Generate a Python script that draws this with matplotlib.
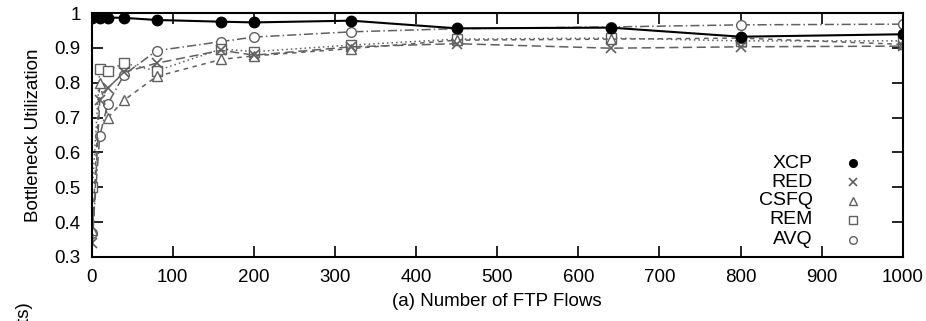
import numpy as np
import matplotlib
matplotlib.use("Agg")
import matplotlib.pyplot as plt

plt.rcParams['font.family'] = ['Liberation Sans', 'DejaVu Sans']

# number of FTP flows
flows = [1, 10, 20, 40, 80, 160, 200, 320, 450, 640, 800, 1000]

# bottleneck utilization per scheme
xcp  = [0.986, 0.987, 0.987, 0.986, 0.980, 0.975, 0.973, 0.978, 0.956, 0.958, 0.932, 0.939]
red  = [0.34, 0.75, 0.785, 0.83, 0.856, 0.893, 0.879, 0.903, 0.912, 0.899, 0.903, 0.905]
csfq = [0.378, 0.80, 0.70, 0.75, 0.818, 0.867, 0.877, 0.898, 0.922, 0.925, 0.928, 0.910]
rem  = [0.50, 0.84, 0.835, 0.856, 0.834, 0.897, 0.889, 0.908, 0.925, 0.928, 0.920, 0.920]
avq  = [0.368, 0.648, 0.74, 0.823, 0.892, 0.918, 0.931, 0.946, 0.955, 0.960, 0.966, 0.968]

labels = ['XCP', 'RED', 'CSFQ', 'REM', 'AVQ']
series = [xcp, red, csfq, rem, avq]

gray = '#606060'
styles = [
    dict(color='black', ls='-', marker='o', mfc='black', mec='black', ms=7.5, lw=1.5),
    dict(color=gray, ls=(0, (6, 3)), marker='x', mfc='none', mec=gray, ms=7, mew=1.2, lw=1.1),
    dict(color=gray, ls=(0, (3, 3)), marker='^', mfc='white', mec=gray, ms=7, lw=1.1),
    dict(color=gray, ls=(0, (1, 2)), marker='s', mfc='white', mec=gray, ms=7, lw=1.1),
    dict(color=gray, ls=(0, (6, 2, 1, 2)), marker='o', mfc='white', mec=gray, ms=7, lw=1.1),
]

fig = plt.figure(figsize=(9.26, 3.21), dpi=100)
ax = fig.add_axes([0.099, 0.1994, 0.876, 0.7601])

# draw the open-marker curves first so XCP sits on top
for vals, st in list(zip(series, styles))[::-1]:
    ax.plot(flows, vals, **st)

ax.set_xlim(0, 1000)
ax.set_ylim(0.3, 1.0)
ax.set_xticks(np.arange(0, 1001, 100))
ax.set_yticks(np.arange(0.3, 1.001, 0.1))
ax.set_yticklabels(['0.3', '0.4', '0.5', '0.6', '0.7', '0.8', '0.9', '1'])
ax.tick_params(direction='in', length=8, width=1.2, top=True, right=True,
               labelsize=13.5)
ax.tick_params(axis='y', pad=8)
ax.tick_params(axis='x', pad=9)
for sp in ax.spines.values():
    sp.set_linewidth(1.5)

ax.set_xlabel('(a) Number of FTP Flows', fontsize=13.5, labelpad=5)
ax.set_ylabel('Bottleneck Utilization', fontsize=13.5, labelpad=9)

# key: labels right-aligned with the marker on the right
key_y = [0.385, 0.307, 0.23, 0.152, 0.07]
for lab, st, y in zip(labels, styles, key_y):
    ax.text(0.889, y, lab, transform=ax.transAxes, ha='right', va='center',
            fontsize=14)
    ax.plot([0.938], [y], transform=ax.transAxes, ls='none', marker=st['marker'],
            mfc=st['mfc'], mec=st['mec'], ms=5.5, mew=st.get('mew', 1.0),
            clip_on=False)

# y label of the panel below, cut by the figure edge
fig.text(25 / 926, 1 - 302 / 321, 'Queue Size (packets)', rotation=90,
         ha='center', va='top', fontsize=13.5)

fig.savefig('out.png', dpi=100)
